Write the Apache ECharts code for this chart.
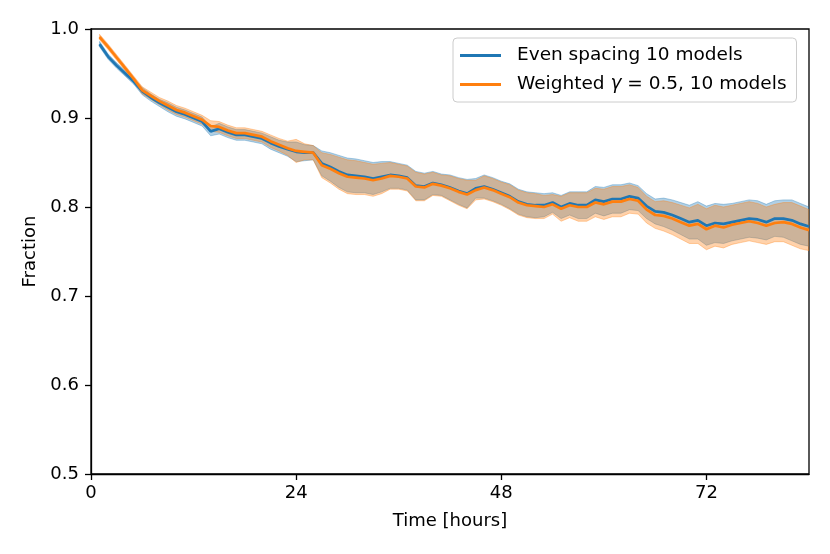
<!DOCTYPE html>
<html><head><meta charset="utf-8">
<script src="https://cdn.jsdelivr.net/npm/echarts@6/dist/echarts.min.js"></script>
<style>html,body{margin:0;padding:0;background:#fff}#c{width:830px;height:554px}</style>
</head><body><div id="c"></div>
<script>
const hours = [1,2,3,4,5,6,7,8,9,10,11,12,13,14,15,16,17,18,19,20,21,22,23,24,25,26,27,28,29,30,31,32,33,34,35,36,37,38,39,40,41,42,43,44,45,46,47,48,49,50,51,52,53,54,55,56,57,58,59,60,61,62,63,64,65,66,67,68,69,70,71,72,73,74,75,76,77,78,79,80,81,82,83,84];
const xTicks = [0,24,48,72];
const evenMean = [0.983,0.969,0.959,0.950,0.941,0.930,0.923,0.917,0.912,0.907,0.904,0.900,0.896,0.885,0.888,0.884,0.881,0.881,0.879,0.877,0.872,0.868,0.865,0.862,0.861,0.861,0.849,0.845,0.840,0.836,0.835,0.834,0.832,0.834,0.836,0.835,0.833,0.824,0.823,0.827,0.825,0.822,0.818,0.815,0.821,0.823,0.820,0.816,0.812,0.806,0.803,0.802,0.802,0.805,0.800,0.804,0.802,0.802,0.808,0.806,0.809,0.809,0.812,0.810,0.801,0.795,0.794,0.791,0.787,0.783,0.785,0.779,0.782,0.781,0.783,0.785,0.787,0.786,0.783,0.787,0.787,0.785,0.781,0.778];
const evenStd = [0.003,0.003,0.003,0.003,0.003,0.004,0.004,0.004,0.005,0.005,0.005,0.005,0.005,0.005,0.006,0.006,0.006,0.006,0.006,0.006,0.007,0.007,0.008,0.011,0.009,0.008,0.014,0.016,0.018,0.019,0.019,0.018,0.018,0.017,0.015,0.014,0.014,0.016,0.015,0.013,0.012,0.014,0.015,0.016,0.011,0.013,0.013,0.013,0.014,0.014,0.014,0.014,0.013,0.011,0.013,0.013,0.015,0.015,0.015,0.016,0.016,0.016,0.015,0.014,0.014,0.014,0.016,0.017,0.018,0.019,0.021,0.022,0.022,0.022,0.021,0.021,0.021,0.021,0.020,0.020,0.021,0.023,0.023,0.022];
const weightedMean = [0.991,0.980,0.968,0.956,0.944,0.931,0.925,0.919,0.914,0.909,0.906,0.902,0.898,0.891,0.890,0.886,0.883,0.883,0.881,0.879,0.874,0.870,0.866,0.863,0.862,0.861,0.847,0.843,0.838,0.834,0.833,0.832,0.830,0.832,0.835,0.834,0.832,0.823,0.822,0.826,0.824,0.821,0.817,0.814,0.819,0.822,0.819,0.815,0.811,0.805,0.802,0.801,0.800,0.803,0.798,0.802,0.800,0.800,0.805,0.803,0.806,0.806,0.809,0.807,0.797,0.791,0.790,0.787,0.783,0.779,0.781,0.775,0.779,0.777,0.780,0.782,0.784,0.782,0.779,0.782,0.783,0.781,0.777,0.774];
const weightedStd = [0.003,0.003,0.003,0.003,0.003,0.004,0.004,0.004,0.005,0.005,0.005,0.005,0.005,0.006,0.006,0.006,0.006,0.006,0.006,0.006,0.007,0.007,0.008,0.013,0.009,0.008,0.014,0.016,0.018,0.019,0.019,0.018,0.018,0.017,0.015,0.014,0.014,0.016,0.015,0.013,0.012,0.014,0.015,0.016,0.011,0.013,0.013,0.013,0.014,0.014,0.014,0.014,0.013,0.011,0.014,0.014,0.016,0.016,0.016,0.017,0.017,0.017,0.016,0.015,0.015,0.015,0.017,0.018,0.019,0.020,0.022,0.023,0.023,0.023,0.022,0.022,0.022,0.022,0.021,0.021,0.022,0.024,0.024,0.023];

const NAME_E = 'Even spacing 10 models';
const NAME_W = 'Weighted γ = 0.5, 10 models';
const BLUE = '#1f77b4', ORANGE = '#ff7f0e';
const BLUE_A = 'rgba(31,119,180,0.35)', ORANGE_A = 'rgba(255,127,14,0.35)';
const FONT = 'DejaVu Sans';

function pairs(ys){ return hours.map((h,i)=>[h, ys[i]]); }
// band rows: [hour, lower, upper]
function bandRows(mean, std){ return hours.map((h,i)=>[h, mean[i]-std[i], mean[i]+std[i]]); }
const evenBand = bandRows(evenMean, evenStd);
const wBand = bandRows(weightedMean, weightedStd);

function bandSeries(rows, col){
  return {
    type:'custom', silent:true, z:1, clip:true,
    data:rows, encode:{x:0, y:[1,2]},
    renderItem:function(params, api){
      if (params.dataIndex !== 0) return null;
      const top = rows.map(r=>api.coord([r[0], r[2]]));
      const bot = rows.map(r=>api.coord([r[0], r[1]])).reverse();
      return {type:'polygon', shape:{points:top.concat(bot)},
        style:{fill:col, stroke:col, lineWidth:1}};
    }
  };
}

const chart = echarts.init(document.getElementById('c'), null, {renderer:'canvas'});
chart.setOption({
  animation:false,
  backgroundColor:'#fff',
  textStyle:{fontFamily:FONT},
  grid:{left:91, right:21, top:29, bottom:80, show:true, borderColor:'#000', borderWidth:1.3, backgroundColor:'transparent'},
  legend:{
    data:[NAME_E, NAME_W], orient:'vertical', left:453, top:38,
    padding:[8,10,8,7], itemGap:10, itemWidth:41, itemHeight:3, icon:'rect',
    borderColor:'#cccccc', borderWidth:1, borderRadius:4, backgroundColor:'rgba(255,255,255,0.8)',
    textStyle:{fontSize:18.5, color:'#000', fontFamily:FONT, padding:[0,0,0,11],
      rich:{t:{fontSize:18.5, color:'#000', fontFamily:FONT}, g:{fontSize:18.5, color:'#000', fontFamily:FONT, fontStyle:'italic'}}},
    formatter:function(n){ return n===NAME_W ? '{t|Weighted }{g|γ}{t| = 0.5, 10 models}' : '{t|'+n+'}'; }
  },
  xAxis:{type:'value', min:0, max:84,
    name:'Time [hours]', nameLocation:'middle', nameGap:38,
    nameTextStyle:{fontSize:18, color:'#000', fontFamily:FONT},
    axisLine:{show:true, lineStyle:{color:'#000', width:1.3}},
    axisTick:{show:true, length:6, lineStyle:{color:'#000', width:1.3}, customValues:xTicks},
    axisLabel:{fontSize:18, color:'#000', margin:10, customValues:xTicks, fontFamily:FONT},
    splitLine:{show:false}},
  yAxis:{type:'value', min:0.5, max:1.0, interval:0.1,
    name:'Fraction', nameLocation:'middle', nameGap:52, nameRotate:90,
    nameTextStyle:{fontSize:18, color:'#000', fontFamily:FONT},
    axisLine:{show:true, lineStyle:{color:'#000', width:1.3}},
    axisTick:{show:true, length:6, lineStyle:{color:'#000', width:1.3}},
    axisLabel:{fontSize:18, color:'#000', margin:12, fontFamily:FONT, formatter:v=>v.toFixed(1)},
    splitLine:{show:false}},
  series:[
    bandSeries(evenBand, BLUE_A),
    bandSeries(wBand, ORANGE_A),
    {type:'line', name:NAME_E, data:pairs(evenMean), symbol:'none', lineStyle:{color:BLUE, width:2.7}, itemStyle:{color:BLUE}, z:3},
    {type:'line', name:NAME_W, data:pairs(weightedMean), symbol:'none', lineStyle:{color:ORANGE, width:2.7}, itemStyle:{color:ORANGE}, z:4}
  ]
});
</script></body></html>
